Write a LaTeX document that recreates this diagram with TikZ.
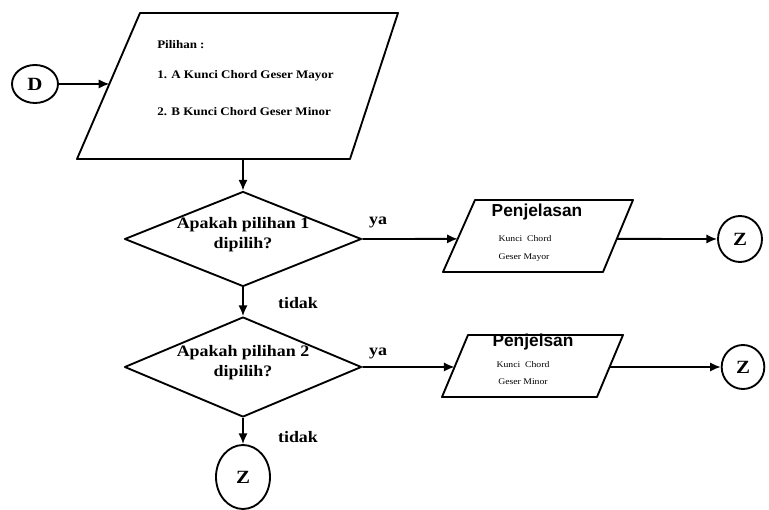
\documentclass[tikz,border=0pt]{standalone}
\usepackage{fontspec}
\setmainfont{Liberation Serif}
\newfontfamily\serifwide[FakeStretch=1.12]{Liberation Serif}
\newfontfamily\sansbold{Liberation Sans}
\usetikzlibrary{shapes.geometric,arrows.meta,calc}

\tikzset{
  outline/.style={line width=1.4pt, line join=round},
  flow/.style={line width=1.4pt, -{Latex[length=8pt,width=7pt]}},
  decision/.style={diamond, draw, outline, inner sep=0pt, aspect=2.5},
  decisiontext/.style={inner sep=0pt, align=center,
     font=\serifwide\bfseries\fontsize{12}{15}\selectfont},
  connector/.style={ellipse, draw, outline, inner sep=0pt,
     font=\serifwide\bfseries\fontsize{14}{16}\selectfont},
  branch/.style={inner sep=0pt, font=\serifwide\bfseries\fontsize{12}{14}\selectfont},
  menutext/.style={anchor=west, inner sep=0pt, font=\serifwide\bfseries\fontsize{8.7}{10}\selectfont},
  headtext/.style={inner sep=0pt, font=\sansbold\bfseries\fontsize{13}{15}\selectfont},
  bodytext/.style={inner sep=0pt, font=\serifwide\fontsize{6.5}{8}\selectfont},
}

\begin{document}
\begin{tikzpicture}[x=0.75pt,y=-0.75pt]
\useasboundingbox (0,0) rectangle (769,510);

% entry connector
\node[connector, minimum width=34.5pt, minimum height=28.5pt] (D) at (35,84) {D};

% menu (input/output parallelogram)
\coordinate (mtl) at (140,13);
\coordinate (mtr) at (398,13);
\coordinate (mbr) at (350,159);
\coordinate (mbl) at (77,159);
\draw[outline] (mtl) -- (mtr) -- (mbr) -- (mbl) -- cycle;
\coordinate (min) at ($(mtl)!0.486!(mbl)$);
\coordinate (mout) at (243,159);
\node[menutext] (m0) at (157,45) {Pilihan :};
\node[menutext] (m1) at (157,76) {1. A Kunci Chord Geser Mayor};
\node[menutext] (m2) at (157,112) {2. B Kunci Chord Geser Minor};

% decisions
\node[decision, minimum width=177.75pt, minimum height=71.25pt] (Q1) at (243,239) {};
\node[decisiontext] (Q1t) at (243,235) {Apakah pilihan 1\\dipilih?};
\node[decision, minimum width=177.75pt, minimum height=75pt] (Q2) at (243,367) {};
\node[decisiontext] (Q2t) at (243,363) {Apakah pilihan 2\\dipilih?};

% explanation 1
\coordinate (p1tl) at (475,200);
\coordinate (p1tr) at (633,200);
\coordinate (p1br) at (603,272);
\coordinate (p1bl) at (443,272);
\draw[outline] (p1tl) -- (p1tr) -- (p1br) -- (p1bl) -- cycle;
\coordinate (p1in) at ($(p1tl)!0.54!(p1bl)$);
\coordinate (p1out) at ($(p1tr)!0.54!(p1br)$);
\node[headtext] (h1) at (537,212) {Penjelasan};
\node[bodytext] (b1a) at (525,239) {Kunci\ \ Chord};
\node[bodytext] (b1b) at (524,258) {Geser Mayor};

% explanation 2
\coordinate (p2tl) at (468,335);
\coordinate (p2tr) at (623,335);
\coordinate (p2br) at (597,397);
\coordinate (p2bl) at (442,397);
\draw[outline] (p2tl) -- (p2tr) -- (p2br) -- (p2bl) -- cycle;
\coordinate (p2in) at ($(p2tl)!0.516!(p2bl)$);
\coordinate (p2out) at ($(p2tr)!0.516!(p2br)$);
\node[headtext] (h2) at (533,342) {Penjelsan};
\node[bodytext] (b2a) at (523,365) {Kunci\ \ Chord};
\node[bodytext] (b2b) at (523,382) {Geser Minor};

% exit connectors
\node[connector, minimum width=33pt, minimum height=34.5pt] (Z1) at (740,239) {Z};
\node[connector, minimum width=32pt, minimum height=33pt] (Z2) at (743,367) {Z};
\node[connector, minimum width=40.5pt, minimum height=48pt] (Z3) at (243,477) {Z};

% flow lines
\draw[flow] (D) -- (min);
\draw[flow] (mout) -- (Q1.north);
\draw[flow] (Q1.south) -- (Q2.north);
\draw[flow] (Q2.south) -- (Z3.north);
\draw[flow] (Q1.east) -- (p1in);
\draw[flow] (Q2.east) -- (p2in);
\draw[flow] (p1out) -- (Z1.west);
\draw[flow] (p2out) -- (Z2.west);

% branch labels
\node[branch] (ya1) at (378,222) {ya};
\node[branch] (ya2) at (378,353) {ya};
\node[branch] (td1) at (298,303) {tidak};
\node[branch] (td2) at (298,437) {tidak};
\end{tikzpicture}
\end{document}
